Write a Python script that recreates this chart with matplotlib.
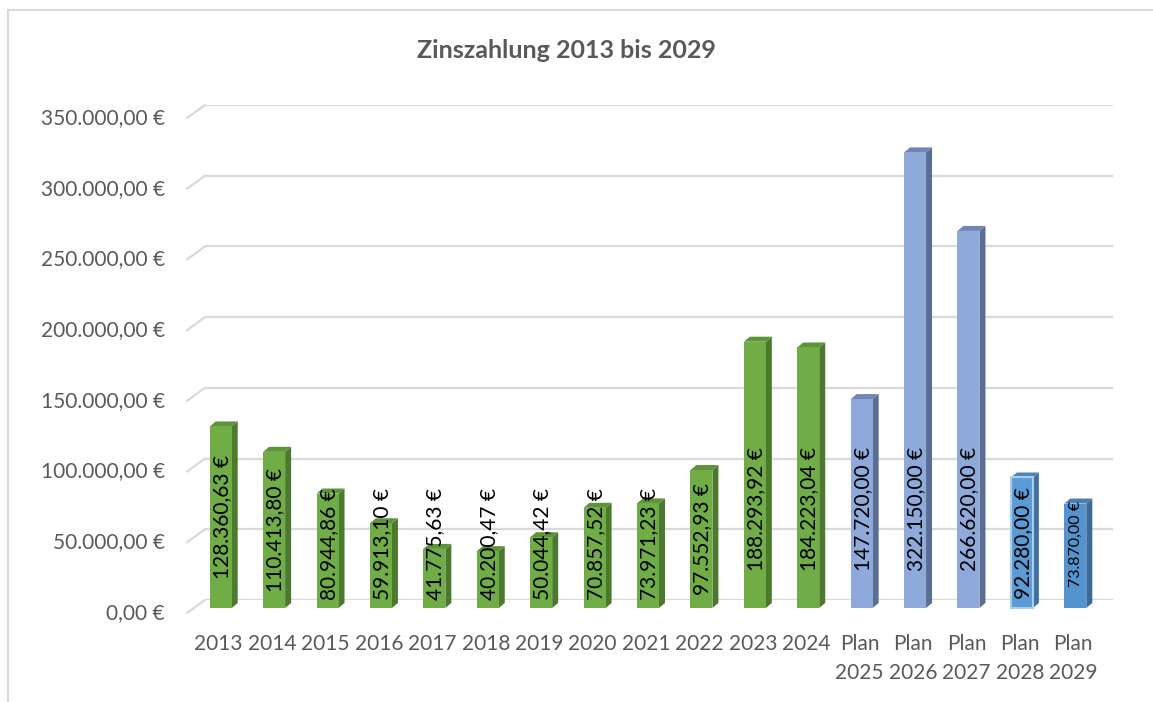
import numpy as np
import matplotlib
matplotlib.use("Agg")
import matplotlib.pyplot as plt
import matplotlib.transforms as mtransforms
from matplotlib.patches import Rectangle, Polygon

plt.rcParams['font.family'] = ['Lato', 'DejaVu Sans']

# Daten
jahre = ['2013', '2014', '2015', '2016', '2017', '2018', '2019', '2020', '2021',
         '2022', '2023', '2024', 'Plan\n2025', 'Plan\n2026', 'Plan\n2027',
         'Plan\n2028', 'Plan\n2029']
zinsen = [128360.63, 110413.80, 80944.86, 59913.10, 41775.63, 40200.47, 50044.42,
          70857.52, 73971.23, 97552.93, 188293.92, 184223.04, 147720.00,
          322150.00, 266620.00, 92280.00, 73870.00]
y_ticks = [0, 50000, 100000, 150000, 200000, 250000, 300000, 350000]

# Farben (Front, Seite, Oben, Rand)
farben = {
    'ist':    ('#70ad47', '#4b7a2f', '#5e9439', None),
    'plan':   ('#8eaadb', '#5a6e93', '#6f86b3', None),
    'plan28': ('#5b9bd5', '#3f70a0', '#4c84bb', '#a9cdef'),
    'plan29': ('#5593cf', '#3d6a95', '#4a7fb5', None),
}
art = ['ist'] * 12 + ['plan'] * 3 + ['plan28', 'plan29']


def euro(v):
    s = f"{v:,.2f}".replace(',', 'X').replace('.', ',').replace('X', '.')
    return s + ' €'


W, H = 1153, 702
fig = plt.figure(figsize=(W / 100, H / 100), dpi=100)
fig.patch.set_facecolor('white')

# Rückwand des Diagramms (Pixel)
ax_l, ax_r, ax_b, ax_t = 205, 1113, 600, 105
ax = fig.add_axes([ax_l / W, (H - ax_b) / H, (ax_r - ax_l) / W, (ax_b - ax_t) / H])
n = len(jahre)
ax.set_xlim(-0.5, n - 0.5)
ax.set_ylim(0, 350000)
ax.axis('off')

grau = '#595959'
px_x = (ax_r - ax_l) / n
px_y = (ax_b - ax_t) / 350000

# Gitterlinien mit schräger Ecke links
for t in y_ticks:
    ax.axhline(t, color='#d9d9d9', lw=1.6, zorder=0)
    ax.annotate('', xy=(0, t), xycoords=('axes fraction', 'data'),
                xytext=(-18 * 0.72, -13 * 0.72), textcoords='offset points',
                arrowprops=dict(arrowstyle='-', color='#d9d9d9', lw=1.6,
                                shrinkA=0, shrinkB=0), annotation_clip=False)
    ax.annotate(euro(t), xy=(0, t), xycoords=('axes fraction', 'data'),
                xytext=(-40 * 0.72, -13 * 0.72), textcoords='offset points',
                ha='right', va='center', fontsize=15, color=grau,
                annotation_clip=False)

# 3D-Säulen
bar_tr = ax.transData + mtransforms.ScaledTranslation(-11 / 100, -8 / 100, fig.dpi_scale_trans)
w = 22 / px_x
dx = 6 / px_x
dy = 5 / px_y

for i, (v, k) in enumerate(zip(zinsen, art)):
    front, seite, oben, rand = farben[k]
    x0, x1 = i - w / 2, i + w / 2
    ax.add_patch(Polygon([(x1, 0), (x1 + dx, dy), (x1 + dx, v + dy), (x1, v)],
                         closed=True, facecolor=seite, edgecolor='none',
                         transform=bar_tr, clip_on=False, zorder=2))
    ax.add_patch(Polygon([(x0, v), (x1, v), (x1 + dx, v + dy), (x0 + dx, v + dy)],
                         closed=True, facecolor=oben, edgecolor='none',
                         transform=bar_tr, clip_on=False, zorder=2))
    ax.add_patch(Rectangle((x0, 0), w, v, facecolor=front,
                           edgecolor=rand if rand else 'none', lw=1.5,
                           transform=bar_tr, clip_on=False, zorder=3))
    # Beschriftung in der Säule
    y_lab = min(max(v / 2, 45000), 70000)
    ax.text(i + 0.02, y_lab, euro(v), rotation=90, ha='center', va='center',
            fontsize=11.5 if i == n - 1 else 15, color='black',
            transform=bar_tr, zorder=4, clip_on=False)
    # Kategorie
    ax.annotate(jahre[i], xy=(i, 0), xycoords=('data', 'axes fraction'),
                xytext=(-13 * 0.72, -34 * 0.72), textcoords='offset points',
                ha='center', va='top', fontsize=15, color=grau,
                linespacing=1.55, annotation_clip=False)

fig.text(566 / W, 1 - 50 / H, 'Zinszahlung 2013 bis 2029', ha='center', va='center',
         fontsize=18, fontweight='bold', color=grau)

# Rahmen
fig.add_artist(plt.Line2D([8 / W, 8 / W], [0, 1 - 9.5 / H], color='#d9d9d9', lw=1.5))
fig.add_artist(plt.Line2D([8 / W, 1], [1 - 9.5 / H, 1 - 9.5 / H], color='#d9d9d9', lw=1.5))

fig.savefig('out.png', dpi=100, facecolor='white')
